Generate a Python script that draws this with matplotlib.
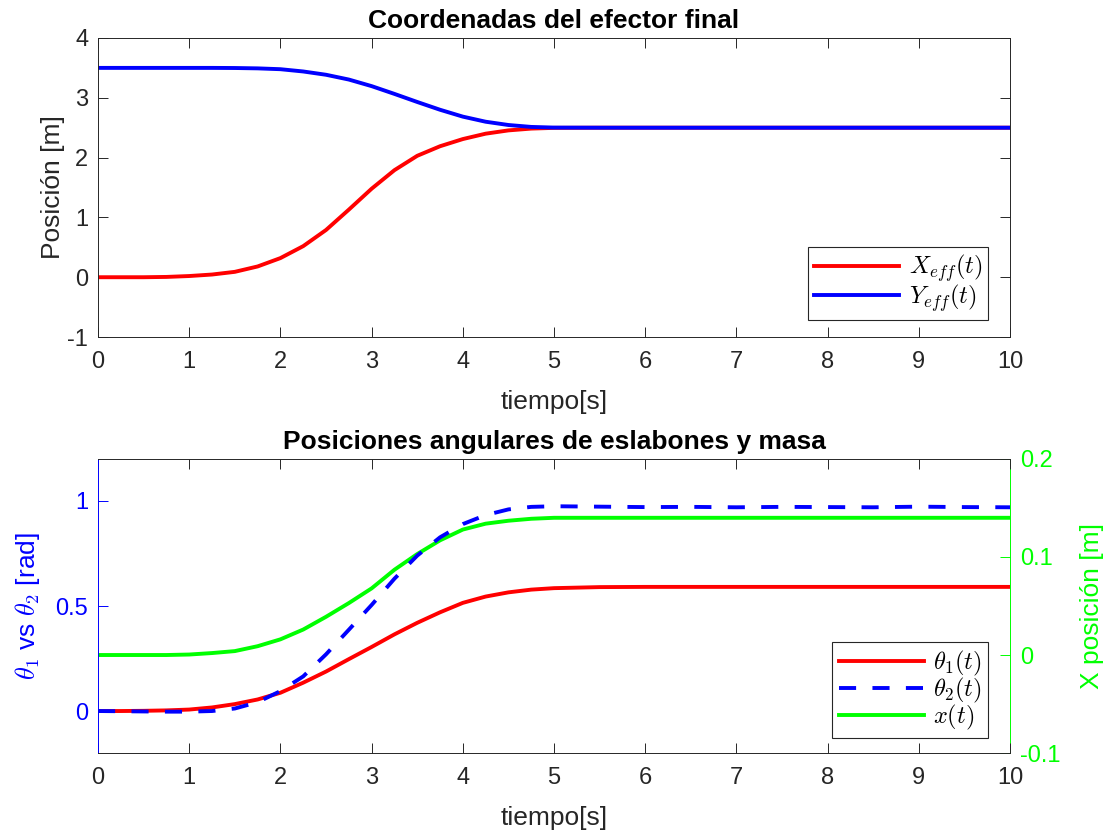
import matplotlib
matplotlib.use("Agg")
import matplotlib.pyplot as plt

plt.rcParams['font.family'] = ['Liberation Sans', 'DejaVu Sans']
plt.rcParams['mathtext.fontset'] = 'cm'
plt.rcParams['axes.unicode_minus'] = False

# Simulation time samples [s]
t = [0.0, 0.25, 0.5, 0.75, 1.0, 1.25, 1.5, 1.75, 2.0, 2.25, 2.5, 2.75, 3.0,
     3.25, 3.5, 3.75, 4.0, 4.25, 4.5, 4.75, 5.0,
     5.5, 6.0, 6.5, 7.0, 7.5, 8.0, 8.5, 9.0, 9.5, 10.0]

# End-effector coordinates [m]
x_eff = [0, 0, 0, 0.005, 0.02, 0.045, 0.09, 0.18, 0.32, 0.52, 0.79, 1.13, 1.48,
         1.79, 2.03, 2.19, 2.31, 2.40, 2.455, 2.485, 2.497,
         2.5, 2.5, 2.5, 2.5, 2.5, 2.5, 2.5, 2.5, 2.5, 2.5]
y_eff = [3.5, 3.5, 3.5, 3.5, 3.5, 3.5, 3.498, 3.492, 3.478, 3.44, 3.385, 3.305, 3.195,
         3.065, 2.93, 2.80, 2.685, 2.60, 2.545, 2.513, 2.502,
         2.5, 2.5, 2.5, 2.5, 2.5, 2.5, 2.5, 2.5, 2.5, 2.5]

# Link angles [rad]
theta1 = [0, 0, 0.001, 0.003, 0.007, 0.017, 0.033, 0.055, 0.087, 0.135, 0.188, 0.247, 0.305,
          0.365, 0.42, 0.47, 0.515, 0.545, 0.565, 0.578, 0.585,
          0.59, 0.591, 0.591, 0.591, 0.591, 0.591, 0.591, 0.591, 0.591, 0.591]
theta2 = [0, -0.001, -0.002, -0.003, -0.003, 0.0, 0.012, 0.042, 0.095, 0.165, 0.27, 0.387, 0.505,
          0.63, 0.74, 0.827, 0.89, 0.933, 0.96, 0.972, 0.975,
          0.973, 0.971, 0.972, 0.970, 0.972, 0.971, 0.970, 0.973, 0.971, 0.970]

# Mass position [m]
x_mass = [0, 0, 0, 0, 0.0005, 0.002, 0.004, 0.009, 0.016, 0.026, 0.039, 0.053, 0.068,
          0.087, 0.103, 0.117, 0.128, 0.134, 0.137, 0.139, 0.14,
          0.14, 0.14, 0.14, 0.14, 0.14, 0.14, 0.14, 0.14, 0.14, 0.14]

dark = '#262626'
green = '#00ff00'
lw = 2.8
fs_tick = 17
fs_label = 19
fs_title = 19
fs_leg = 17.5

fig = plt.figure(figsize=(11.04, 8.33), dpi=100)


def legend_box(ax, handles, anchor):
    leg = ax.legend(handles=handles, loc='lower right', bbox_to_anchor=anchor,
                    borderaxespad=0, fontsize=fs_leg, handlelength=3.5, fancybox=False,
                    framealpha=1, edgecolor=dark, borderpad=0.25, labelspacing=-0.08,
                    handletextpad=0.4)
    leg.get_frame().set_linewidth(0.8)
    return leg


# ---- top: end-effector coordinates ----
ax1 = fig.add_axes([0.0888, 0.5954, 0.8261, 0.3590])
l1, = ax1.plot(t, x_eff, color='red', lw=lw, label=r'$X_{eff}(t)$')
l2, = ax1.plot(t, y_eff, color='blue', lw=lw, label=r'$Y_{eff}(t)$')
ax1.set_xlim(0, 10)
ax1.set_ylim(-1, 4)
ax1.set_xticks(range(0, 11))
ax1.set_yticks(range(-1, 5))
ax1.tick_params(direction='in', top=True, right=True, length=7, width=0.7,
                colors=dark, labelsize=fs_tick)
ax1.tick_params(axis='x', pad=10)
ax1.tick_params(axis='y', pad=7)
for s in ax1.spines.values():
    s.set_color(dark)
    s.set_linewidth(0.7)
ax1.set_title('Coordenadas del efector final', fontsize=fs_title, fontweight='bold', pad=7)
ax1.set_xlabel('tiempo[s]', fontsize=fs_label, color=dark, labelpad=12)
ax1.set_ylabel('Posición [m]', fontsize=fs_label, color=dark, labelpad=2)
legend_box(ax1, [l1, l2], (0.976, 0.057))

# ---- bottom: link angles and mass position ----
ax2 = fig.add_axes([0.0888, 0.0960, 0.8261, 0.3530])
ax3 = ax2.twinx()
ax2.set_zorder(ax3.get_zorder() + 1)
ax2.patch.set_visible(False)

l3, = ax2.plot(t, theta1, color='red', lw=lw, label=r'$\theta_1(t)$')
l4, = ax2.plot(t, theta2, color='blue', lw=lw, dashes=(4.4, 4.2), label=r'$\theta_2(t)$')
l5, = ax3.plot(t, x_mass, color=green, lw=lw, label=r'$x(t)$')

ax2.set_xlim(0, 10)
ax2.set_ylim(-0.2, 1.2)
ax2.set_xticks(range(0, 11))
ax2.set_yticks([0, 0.5, 1])
ax2.set_yticklabels(['0', '0.5', '1'])
ax3.set_ylim(-0.1, 0.2)
ax3.set_yticks([-0.1, 0, 0.1, 0.2])
ax3.set_yticklabels(['-0.1', '0', '0.1', '0.2'])

ax2.tick_params(axis='x', direction='in', top=True, length=7, width=0.7,
                colors=dark, labelsize=fs_tick, pad=10)
ax2.tick_params(axis='y', direction='in', length=7, width=0.7,
                colors='blue', labelsize=fs_tick, pad=7)
ax3.tick_params(axis='y', direction='in', length=7, width=0.7,
                colors=green, labelsize=fs_tick, pad=7)

for s in ['top', 'bottom']:
    ax2.spines[s].set_color(dark)
    ax2.spines[s].set_linewidth(0.7)
    ax3.spines[s].set_visible(False)
ax2.spines['left'].set_color('blue')
ax2.spines['left'].set_linewidth(0.7)
ax2.spines['right'].set_visible(False)
ax3.spines['left'].set_visible(False)
ax3.spines['right'].set_color(green)
ax3.spines['right'].set_linewidth(0.7)

ax2.set_title('Posiciones angulares de eslabones y masa', fontsize=fs_title,
              fontweight='bold', pad=7)
ax2.set_xlabel('tiempo[s]', fontsize=fs_label, color=dark, labelpad=12)
ax2.set_ylabel(r'$\theta_\mathsf{1}$ vs $\theta_\mathsf{2}$ [rad]', fontsize=fs_label,
               color='blue', labelpad=10)
ax3.set_ylabel('X posición [m]', fontsize=fs_label, color=green, labelpad=14)

legend_box(ax2, [l3, l4, l5], (0.976, 0.051))

fig.savefig('out.png', dpi=100, facecolor='white')
